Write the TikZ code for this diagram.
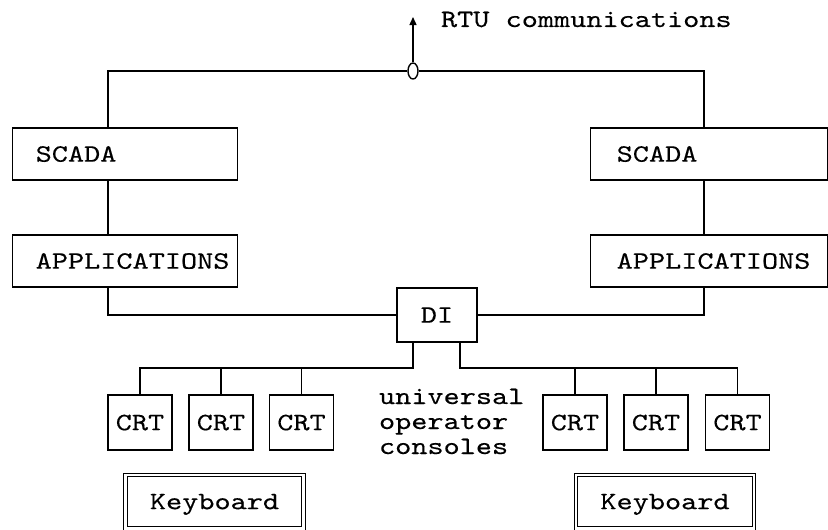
\documentclass[tikz,border=0pt]{standalone}
\usepackage{fontspec}
\newfontfamily\typefont{lmmono10-regular}[Extension=.otf, FakeStretch=1.23, FakeBold=0.3]
\usetikzlibrary{arrows.meta}
\usetikzlibrary{shapes.geometric}

\tikzset{
    every node/.style={font=\typefont\fontsize{25}{25}\selectfont},
    unit/.style n args={2}{draw, anchor=west, minimum height=52pt, inner xsep=5pt,
        text width=#1, align=left, execute at begin node={\hspace*{#2}},
        text height=15.4pt, text depth=0pt},
    crtbox/.style={draw, minimum width=64pt, minimum height=55pt, inner sep=0pt,
        text height=15.4pt, text depth=0pt},
    kbbox/.style={draw, line width=1pt, double, double distance=2.5pt,
        minimum width=178pt, minimum height=53.5pt, inner sep=0pt,
        text height=15.4pt, text depth=0pt},
}

\begin{document}
\begin{tikzpicture}[x=1pt, y=-1pt, line width=1.4pt]
    \useasboundingbox (0,0) rectangle (828,530); % page size
    \node[unit={215pt}{18pt}] (scadaL) at (12,154) {SCADA};
    \node[unit={215pt}{18pt}] (appsL) at (12,261) {APPLICATIONS};
    \node[unit={227pt}{21pt}] (scadaR) at (590,154) {SCADA};
    \node[unit={227pt}{21pt}] (appsR) at (590,261) {APPLICATIONS};
    \node[draw, minimum width=80pt, minimum height=54pt, inner sep=0pt,
        text height=15.4pt, text depth=0pt] (di) at (437,315) {DI};
    \node[draw, ellipse, fill=white, minimum width=10pt, minimum height=16pt,
        inner sep=0pt] (junc) at (413,71) {};
    \node[anchor=base west] (rtu) at (437,27) {RTU communications};
    \coordinate (rtutip) at (413,17);
    \coordinate (topL) at (108,71);
    \coordinate (topR) at (704,71);

    \node[crtbox] (crt1) at (140,422.5) {CRT};
    \node[crtbox] (crt2) at (221,422.5) {CRT};
    \node[crtbox] (crt3) at (301.5,422.5) {CRT};
    \node[crtbox] (crt4) at (575,422.5) {CRT};
    \node[crtbox] (crt5) at (656,422.5) {CRT};
    \node[crtbox] (crt6) at (737.5,422.5) {CRT};
    \node[anchor=base west, align=left] (uoc) at (375,454) {universal\\operator\\consoles};
    \node[kbbox] (kbL) at (214.5,501.5) {Keyboard};
    \node[kbbox] (kbR) at (665,501.5) {Keyboard};
    \coordinate (busL) at (413,368);
    \coordinate (busR) at (460,368);

    % upper ring
    \draw[-{Triangle[width=7pt,length=8pt]}] (junc.north) -- (rtutip);
    \draw (scadaL.north -| topL) |- (junc.west);
    \draw (junc.east) -| (scadaR.north -| topR);
    \draw (scadaL.south -| topL) -- (appsL.north -| topL);
    \draw (scadaR.south -| topR) -- (appsR.north -| topR);
    \draw (appsL.south -| topL) |- (di.west);
    \draw (appsR.south -| topR) |- (di.east);

    % consoles
    \draw (di.south -| busL) -- (busL) -| (crt1.north);
    \draw (crt2.north) -- (crt2.north |- busL);
    \draw (crt3.north) -- (crt3.north |- busL);
    \draw (di.south -| busR) -- (busR) -| (crt6.north);
    \draw (crt4.north) -- (crt4.north |- busR);
    \draw (crt5.north) -- (crt5.north |- busR);
\end{tikzpicture}
\end{document}
